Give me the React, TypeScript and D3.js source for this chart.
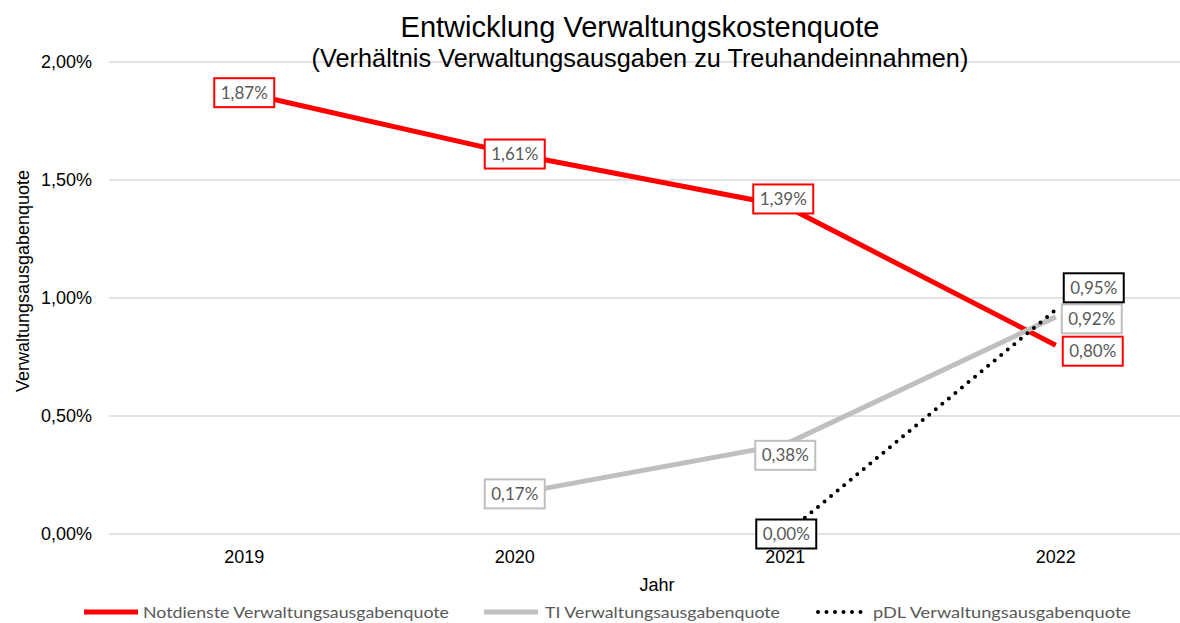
import React from "react";
import * as d3 from "d3";

const years = ["2019", "2020", "2021", "2022"];
const notdienste: (number | null)[] = [1.87, 1.61, 1.39, 0.8];
const ti: (number | null)[] = [null, 0.17, 0.38, 0.92];
const pdl: (number | null)[] = [null, null, 0.0, 0.95];
const yTicks = [0, 0.5, 1.0, 1.5, 2.0];
const seriesNames = [
  "Notdienste Verwaltungsausgabenquote",
  "TI Verwaltungsausgabenquote",
  "pDL Verwaltungsausgabenquote",
];

// label offsets (style: placement of data labels relative to the point)
const labelOffsets: [number, number][][] = [
  [[0, 0], [0, 0], [-2, -7], [37, 6]],
  [[0, 0], [0, 0], [0, 11], [36, 2]],
  [[0, 0], [0, 0], [1, 0], [38, -22]],
];

const W = 1180;
const H = 623;

const fmt = (v: number) => v.toFixed(2).replace(".", ",") + "%";

export default function App() {
  const x = d3.scalePoint<string>().domain(years).range([109, 1191]).padding(0.5);
  const y = d3.scaleLinear().domain([0, 2]).range([534, 62]);

  const line = d3
    .line<number | null>()
    .defined((d) => d !== null)
    .x((_, i) => x(years[i])!)
    .y((d) => y(d as number));

  const styles = [
    { color: "#ff0000", width: 5, dash: undefined as string | undefined, cap: "butt", box: "#ff0000" },
    { color: "#bfbfbf", width: 5, dash: undefined, cap: "butt", box: "#bfbfbf" },
    { color: "#000000", width: 4, dash: "0 8.5", cap: "round", box: "#000000" },
  ];
  const allSeries = [notdienste, ti, pdl];

  const labelFont = "Lato, 'Open Sans', sans-serif";
  const axisFont = "'Liberation Sans', Arial, sans-serif";

  const legendItems = [
    { x0: 84, tx: 143, tl: 306 },
    { x0: 484, tx: 545, tl: 235 },
    { x0: 816, tx: 873, tl: 258 },
  ];

  return (
    <svg
      width={W}
      height={H}
      style={{ position: "absolute", left: 0, top: 0, background: "#fff" }}
    >
      <defs>
        <clipPath id="plotclip">
          <rect x={0} y={0} width={W} height={H} />
        </clipPath>
      </defs>
      <rect x={0} y={0} width={W} height={H} fill="#fff" />

      {/* gridlines */}
      <g clipPath="url(#plotclip)">
        {yTicks.map((t) => (
          <line key={t} x1={109} x2={1191} y1={y(t)} y2={y(t)} stroke="#d9d9d9" strokeWidth={1.3} />
        ))}
      </g>

      {/* title */}
      <text x={640} y={37} textAnchor="middle" fontFamily={axisFont} fontSize={29} fill="#000">
        Entwicklung Verwaltungskostenquote
      </text>
      <text x={640} y={67} textAnchor="middle" fontFamily={axisFont} fontSize={25.3} fill="#000">
        (Verhältnis Verwaltungsausgaben zu Treuhandeinnahmen)
      </text>

      {/* y tick labels */}
      {yTicks.map((t) => (
        <text
          key={t}
          x={92}
          y={y(t)}
          dy="0.35em"
          textAnchor="end"
          fontFamily={axisFont}
          fontSize={18}
          fill="#000"
        >
          {fmt(t)}
        </text>
      ))}
      {/* y axis title */}
      <text
        transform={`translate(29,281) rotate(-90)`}
        textAnchor="middle"
        fontFamily={axisFont}
        fontSize={18}
        fill="#000"
      >
        Verwaltungsausgabenquote
      </text>
      {/* x tick labels */}
      {years.map((yr) => (
        <text key={yr} x={x(yr)} y={563} textAnchor="middle" fontFamily={axisFont} fontSize={18} fill="#000">
          {yr}
        </text>
      ))}
      <text x={657} y={591} textAnchor="middle" fontFamily={axisFont} fontSize={18} fill="#000">
        Jahr
      </text>

      {/* lines */}
      {allSeries.map((s, si) => (
        <path
          key={si}
          d={line(s) || ""}
          fill="none"
          stroke={styles[si].color}
          strokeWidth={styles[si].width}
          strokeDasharray={styles[si].dash}
          strokeLinecap={styles[si].cap as any}
        />
      ))}

      {/* data labels */}
      {allSeries.map((s, si) =>
        s.map((v, i) => {
          if (v === null) return null;
          const [dx, dy] = labelOffsets[si][i];
          const cx = x(years[i])! + dx;
          const cy = y(v) + dy;
          const bw = 60;
          const bh = 29;
          return (
            <g key={`${si}-${i}`}>
              <rect
                x={cx - bw / 2}
                y={cy - bh / 2}
                width={bw}
                height={bh}
                fill="#fff"
                stroke={styles[si].box}
                strokeWidth={2}
              />
              <text
                x={cx}
                y={cy}
                dy="0.36em"
                textAnchor="middle"
                fontFamily={labelFont}
                fontSize={17}
                fill="#595959"
              >
                {fmt(v)}
              </text>
            </g>
          );
        })
      )}

      {/* legend */}
      {legendItems.map((li, si) => (
        <g key={si}>
          <line
            x1={li.x0 + (si === 2 ? 2 : 0)}
            x2={li.x0 + (si === 2 ? 50 : 54)}
            y1={612}
            y2={612}
            stroke={styles[si].color}
            strokeWidth={styles[si].width}
            strokeDasharray={si === 2 ? "0 8.5" : undefined}
            strokeLinecap={styles[si].cap as any}
          />
          <text
            x={li.tx}
            y={612}
            dy="0.35em"
            fontFamily={labelFont}
            fontSize={16}
            fill="#595959"
            textLength={li.tl}
            lengthAdjust="spacingAndGlyphs"
          >
            {seriesNames[si]}
          </text>
        </g>
      ))}
    </svg>
  );
}
